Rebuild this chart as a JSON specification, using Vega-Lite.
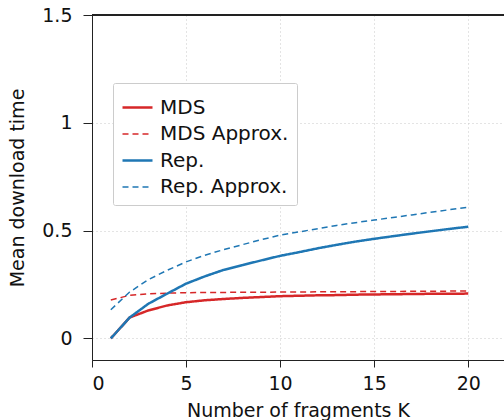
{
  "$schema": "https://vega.github.io/schema/vega-lite/v6.json",
  "width": 412,
  "height": 345,
  "autosize": {"type": "none"},
  "padding": {"left": 92, "top": 15, "right": 0, "bottom": 60},
  "background": "white",
  "config": {
    "font": "DejaVu Sans",
    "view": {"stroke": "#222", "strokeWidth": 1}
  },
  "data": {"values": [
    {"K":1,"series":"MDS","time":0},{"K":2,"series":"MDS","time":0.097},{"K":3,"series":"MDS","time":0.13},{"K":4,"series":"MDS","time":0.153},{"K":5,"series":"MDS","time":0.168},{"K":6,"series":"MDS","time":0.177},{"K":7,"series":"MDS","time":0.183},{"K":8,"series":"MDS","time":0.188},{"K":9,"series":"MDS","time":0.192},{"K":10,"series":"MDS","time":0.196},{"K":11,"series":"MDS","time":0.198},{"K":12,"series":"MDS","time":0.2},{"K":13,"series":"MDS","time":0.201},{"K":14,"series":"MDS","time":0.203},{"K":15,"series":"MDS","time":0.204},{"K":16,"series":"MDS","time":0.205},{"K":17,"series":"MDS","time":0.206},{"K":18,"series":"MDS","time":0.207},{"K":19,"series":"MDS","time":0.207},{"K":20,"series":"MDS","time":0.208},
    {"K":1,"series":"MDS Approx.","time":0.178},{"K":2,"series":"MDS Approx.","time":0.2},{"K":3,"series":"MDS Approx.","time":0.207},{"K":4,"series":"MDS Approx.","time":0.21},{"K":5,"series":"MDS Approx.","time":0.212},{"K":6,"series":"MDS Approx.","time":0.213},{"K":7,"series":"MDS Approx.","time":0.2135},{"K":8,"series":"MDS Approx.","time":0.214},{"K":9,"series":"MDS Approx.","time":0.2145},{"K":10,"series":"MDS Approx.","time":0.215},{"K":11,"series":"MDS Approx.","time":0.2155},{"K":12,"series":"MDS Approx.","time":0.216},{"K":13,"series":"MDS Approx.","time":0.2165},{"K":14,"series":"MDS Approx.","time":0.217},{"K":15,"series":"MDS Approx.","time":0.2175},{"K":16,"series":"MDS Approx.","time":0.218},{"K":17,"series":"MDS Approx.","time":0.2185},{"K":18,"series":"MDS Approx.","time":0.219},{"K":19,"series":"MDS Approx.","time":0.2195},{"K":20,"series":"MDS Approx.","time":0.22},
    {"K":1,"series":"Rep.","time":0},{"K":2,"series":"Rep.","time":0.097},{"K":3,"series":"Rep.","time":0.161},{"K":4,"series":"Rep.","time":0.208},{"K":5,"series":"Rep.","time":0.254},{"K":6,"series":"Rep.","time":0.288},{"K":7,"series":"Rep.","time":0.318},{"K":8,"series":"Rep.","time":0.34},{"K":9,"series":"Rep.","time":0.362},{"K":10,"series":"Rep.","time":0.383},{"K":11,"series":"Rep.","time":0.4},{"K":12,"series":"Rep.","time":0.418},{"K":13,"series":"Rep.","time":0.434},{"K":14,"series":"Rep.","time":0.449},{"K":15,"series":"Rep.","time":0.462},{"K":16,"series":"Rep.","time":0.474},{"K":17,"series":"Rep.","time":0.486},{"K":18,"series":"Rep.","time":0.497},{"K":19,"series":"Rep.","time":0.508},{"K":20,"series":"Rep.","time":0.518},
    {"K":1,"series":"Rep. Approx.","time":0.133},{"K":2,"series":"Rep. Approx.","time":0.215},{"K":3,"series":"Rep. Approx.","time":0.273},{"K":4,"series":"Rep. Approx.","time":0.316},{"K":5,"series":"Rep. Approx.","time":0.355},{"K":6,"series":"Rep. Approx.","time":0.386},{"K":7,"series":"Rep. Approx.","time":0.412},{"K":8,"series":"Rep. Approx.","time":0.435},{"K":9,"series":"Rep. Approx.","time":0.458},{"K":10,"series":"Rep. Approx.","time":0.479},{"K":11,"series":"Rep. Approx.","time":0.494},{"K":12,"series":"Rep. Approx.","time":0.509},{"K":13,"series":"Rep. Approx.","time":0.524},{"K":14,"series":"Rep. Approx.","time":0.537},{"K":15,"series":"Rep. Approx.","time":0.549},{"K":16,"series":"Rep. Approx.","time":0.561},{"K":17,"series":"Rep. Approx.","time":0.573},{"K":18,"series":"Rep. Approx.","time":0.585},{"K":19,"series":"Rep. Approx.","time":0.597},{"K":20,"series":"Rep. Approx.","time":0.608}
  ]},
  "layer": [
    {
      "mark": {"type": "line", "interpolate": "linear"},
      "encoding": {
        "x": {
          "field": "K", "type": "quantitative",
          "scale": {"domain": [0, 21.9], "nice": false},
          "axis": {
            "values": [0, 5, 10, 15, 20],
            "title": "Number of fragments K",
            "titleFontSize": 19, "titleFontWeight": "normal", "titleColor": "#111",
            "titlePadding": 8,
            "labelFontSize": 19, "labelColor": "#111", "labelPadding": 7,
            "tickSize": 7, "tickColor": "#222", "domainColor": "#222",
            "gridColor": "#c8c8c8", "gridDash": [1, 3], "gridWidth": 1
          }
        },
        "y": {
          "field": "time", "type": "quantitative",
          "scale": {"domain": [-0.1, 1.5], "nice": false},
          "axis": {
            "values": [0, 0.5, 1, 1.5],
            "format": ".1~f",
            "title": "Mean download time",
            "titleFontSize": 19, "titleFontWeight": "normal", "titleColor": "#111",
            "titlePadding": 14,
            "labelFontSize": 19, "labelColor": "#111", "labelPadding": 11,
            "tickSize": 9, "tickColor": "#222", "domainColor": "#222",
            "gridColor": "#c8c8c8", "gridDash": [1, 3], "gridWidth": 1
          }
        },
        "color": {
          "field": "series", "type": "nominal",
          "scale": {"domain": ["MDS", "MDS Approx.", "Rep.", "Rep. Approx."], "range": ["#d62728", "#d62728", "#1f77b4", "#1f77b4"]},
          "legend": {
            "title": null, "orient": "none", "legendX": 21, "legendY": 68,
            "symbolType": "stroke", "symbolSize": 900, "symbolStrokeWidth": 2.5,
            "labelFontSize": 20, "labelColor": "#111", "labelOffset": 6,
            "rowPadding": 0, "padding": 8,
            "strokeColor": "#cccccc", "fillColor": "white", "cornerRadius": 2
          }
        },
        "strokeDash": {
          "field": "series", "type": "nominal",
          "scale": {"domain": ["MDS", "MDS Approx.", "Rep.", "Rep. Approx."], "range": [[1, 0], [6, 4], [1, 0], [6, 4]]},
          "legend": {
            "title": null, "orient": "none", "legendX": 21, "legendY": 68,
            "symbolType": "stroke", "symbolSize": 900, "symbolStrokeWidth": 2.5,
            "labelFontSize": 20, "labelColor": "#111", "labelOffset": 6,
            "rowPadding": 0, "padding": 8,
            "strokeColor": "#cccccc", "fillColor": "white", "cornerRadius": 2
          }
        },
        "strokeWidth": {
          "field": "series", "type": "nominal",
          "scale": {"type": "ordinal", "domain": ["MDS", "MDS Approx.", "Rep.", "Rep. Approx."], "range": [2.5, 1.5, 2.5, 1.5]},
          "legend": null
        }
      }
    },
    {
      "mark": {"type": "rule", "color": "#222", "strokeWidth": 1},
      "encoding": {"y": {"datum": 1.5}}
    }
  ]
}
